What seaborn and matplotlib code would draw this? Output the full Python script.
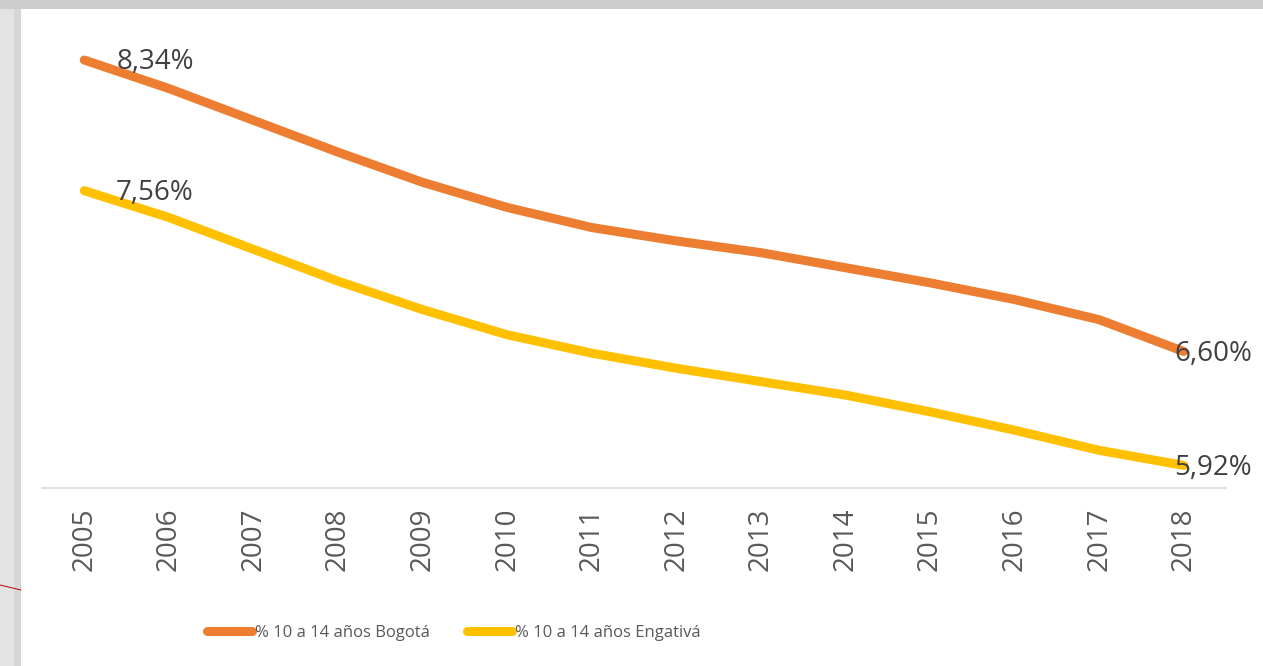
import matplotlib
matplotlib.use("Agg")
import matplotlib.pyplot as plt
import seaborn as sns
import pandas as pd
from matplotlib.patches import Rectangle
from matplotlib.lines import Line2D

years = [2005, 2006, 2007, 2008, 2009, 2010, 2011, 2012, 2013, 2014, 2015, 2016, 2017, 2018]
bogota = [8.34, 8.17, 7.98, 7.79, 7.61, 7.46, 7.34, 7.26, 7.19, 7.10, 7.01, 6.91, 6.79, 6.60]
engativa = [7.56, 7.40, 7.21, 7.02, 6.85, 6.70, 6.59, 6.50, 6.42, 6.34, 6.24, 6.13, 6.01, 5.92]
series_names = ["% 10 a 14 años Bogotá", "% 10 a 14 años Engativá"]
colors = ["#ED7D31", "#FFC000"]

df = pd.DataFrame({
    "year": years * 2,
    "value": bogota + engativa,
    "serie": [series_names[0]] * len(years) + [series_names[1]] * len(years),
})

sns.set_theme(style="white")
plt.rcParams["font.family"] = ["Open Sans", "DejaVu Sans"]

W, H = 1263, 666
fig = plt.figure(figsize=(W / 100, H / 100), dpi=100)
fig.patch.set_facecolor("white")
# grey frame (shadow) at top and left
fig.add_artist(Rectangle((0, 0), 21 / W, 1, transform=fig.transFigure, color="#e3e3e3", lw=0, zorder=0))
fig.add_artist(Rectangle((14 / W, 0), 7 / W, 1, transform=fig.transFigure, color="#d6d6d6", lw=0, zorder=0))
fig.add_artist(Rectangle((0, 1 - 9 / H), 1, 9 / H, transform=fig.transFigure, color="#cdcdcd", lw=0, zorder=0))
fig.add_artist(Line2D([0, 21 / W], [1 - 585 / H, 1 - 590 / H], transform=fig.transFigure, color="#c00000", lw=0.7))

ax = fig.add_axes([42 / W, 1 - 488 / H, (1226 - 42) / W, (488 - 20) / H])
ax.set_facecolor("none")

sns.lineplot(data=df, x="year", y="value", hue="serie", hue_order=series_names,
             palette=colors, linewidth=6.5, ax=ax, legend=True,
             solid_capstyle="round", solid_joinstyle="round")

ax.set_xlim(2004.5, 2018.5)
ax.set_ylim(5.785, 5.785 + (488 - 20) / 167.5)
ax.set_xticks(years)
ax.set_xticklabels([str(y) for y in years], rotation=90, fontsize=20, color="#595959")
ax.tick_params(axis="x", length=0, pad=14)
ax.set_yticks([])
ax.set_xlabel("")
ax.set_ylabel("")
for s in ["top", "left", "right"]:
    ax.spines[s].set_visible(False)
ax.spines["bottom"].set_color("#d9d9d9")
ax.spines["bottom"].set_linewidth(1.2)

def fmt(v):
    return f"{v:.2f}%".replace(".", ",")

label_color = "#404040"
ax.annotate(fmt(bogota[0]), (years[0], bogota[0]), xytext=(23, -1.5), textcoords="offset points",
            ha="left", va="center", fontsize=20, color=label_color)
ax.annotate(fmt(engativa[0]), (years[0], engativa[0]), xytext=(23, -1.5), textcoords="offset points",
            ha="left", va="center", fontsize=20, color=label_color)
ax.annotate(fmt(bogota[-1]), (years[-1], bogota[-1]), xytext=(-6.5, -2), textcoords="offset points",
            ha="left", va="center", fontsize=20, color=label_color)
ax.annotate(fmt(engativa[-1]), (years[-1], engativa[-1]), xytext=(-6.5, -2), textcoords="offset points",
            ha="left", va="center", fontsize=20, color=label_color)

handles, labels = ax.get_legend_handles_labels()
for h in handles:
    h.set_solid_capstyle("round")
leg = ax.legend(handles, labels, loc="center", bbox_to_anchor=(454 / W, 1 - 633 / H),
                bbox_transform=fig.transFigure, ncol=2, frameon=False,
                prop={"family": ["Open Sans"], "size": 12},
                handlelength=2.7, handletextpad=0.18, columnspacing=2.2,
                labelcolor="#595959")

fig.savefig("out.png", dpi=100, facecolor=fig.get_facecolor())
